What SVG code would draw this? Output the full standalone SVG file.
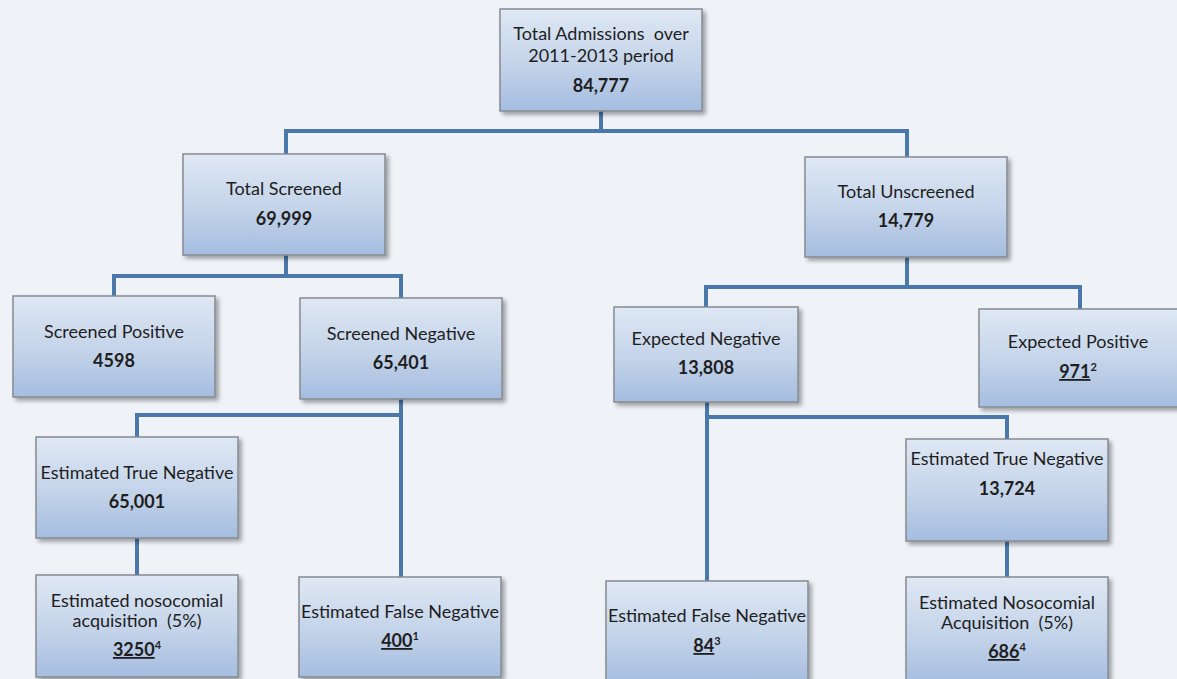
<svg xmlns="http://www.w3.org/2000/svg" width="1177" height="679" viewBox="0 0 1177 679">
<defs>
<linearGradient id="boxg" x1="0" y1="0" x2="0" y2="1">
<stop offset="0" stop-color="#dfe8f4"/>
<stop offset="0.55" stop-color="#c3d3e9"/>
<stop offset="1" stop-color="#a5bde0"/>
</linearGradient>
<filter id="sh" x="-10%" y="-10%" width="125%" height="130%">
<feDropShadow dx="3" dy="3" stdDeviation="2" flood-color="#000" flood-opacity="0.35"/>
</filter>
<style>
.box{fill:url(#boxg);stroke:#858a92;stroke-width:1.5;filter:url(#sh)}
.t{font-family:Lato,"Liberation Sans",sans-serif;font-size:18px;fill:#1e1e1e;text-anchor:middle;white-space:pre}
.n{font-weight:bold}
.u{text-decoration:underline}
.sup{font-size:11px;font-weight:bold}
.c{fill:none;stroke:#4a78aa;stroke-width:4}
</style>
</defs>
<rect width="1177" height="679" fill="#eff3f8"/>
<g id="connectors">
<path class="c" d="M601,111 V131 M284,131 H909 M286,131 V154 M907,131 V157"/>
<path class="c" d="M286,255 V276 M112,276 H403 M114,276 V296 M401,276 V298"/>
<path class="c" d="M401,399 V577 M135,415 H401 M137,415 V437"/>
<path class="c" d="M137,538 V575"/>
<path class="c" d="M907,257 V287 M704,287 H1082 M706,287 V307 M1080,287 V309"/>
<path class="c" d="M707,402 V581 M705,417 H1009 M1007,417 V439"/>
<path class="c" d="M1007,541 V577"/>
</g>
<g id="n-total">
<rect class="box" x="500" y="9" width="202" height="102"/>
<text class="t" x="601" y="40" xml:space="preserve">Total Admissions  over</text>
<text class="t" x="601" y="62">2011-2013 period</text>
<text class="t n" x="601" y="92">84,777</text>
</g>
<g id="n-screened">
<rect class="box" x="183" y="154" width="202" height="101"/>
<text class="t" x="284" y="195">Total Screened</text>
<text class="t n" x="284" y="225">69,999</text>
</g>
<g id="n-unscreened">
<rect class="box" x="805" y="157" width="202" height="100"/>
<text class="t" x="906" y="198">Total Unscreened</text>
<text class="t n" x="906" y="227">14,779</text>
</g>
<g id="n-spos">
<rect class="box" x="13" y="296" width="202" height="101"/>
<text class="t" x="114" y="338">Screened Positive</text>
<text class="t n" x="114" y="367">4598</text>
</g>
<g id="n-sneg">
<rect class="box" x="300" y="298" width="202" height="101"/>
<text class="t" x="401" y="340">Screened Negative</text>
<text class="t n" x="401" y="369">65,401</text>
</g>
<g id="n-eneg">
<rect class="box" x="614" y="307" width="184" height="95"/>
<text class="t" x="706" y="345">Expected Negative</text>
<text class="t n" x="706" y="374">13,808</text>
</g>
<g id="n-epos">
<rect class="box" x="979" y="309" width="204" height="98"/>
<text class="t" x="1078" y="348">Expected Positive</text>
<text class="t n" x="1078" y="378"><tspan class="u">971</tspan><tspan class="sup" dy="-7">2</tspan></text>
</g>
<g id="n-ltn">
<rect class="box" x="36" y="437" width="202" height="101"/>
<text class="t" x="137" y="479">Estimated True Negative</text>
<text class="t n" x="137" y="508">65,001</text>
</g>
<g id="n-lnoso">
<rect class="box" x="36" y="575" width="202" height="102"/>
<text class="t" x="137" y="607">Estimated nosocomial</text>
<text class="t" x="137" y="627" xml:space="preserve">acquisition  (5%)</text>
<text class="t n" x="137" y="656"><tspan class="u">3250</tspan><tspan class="sup" dy="-7">4</tspan></text>
</g>
<g id="n-lfn">
<rect class="box" x="299" y="577" width="202" height="100"/>
<text class="t" x="400" y="618">Estimated False Negative</text>
<text class="t n" x="400" y="647"><tspan class="u">400</tspan><tspan class="sup" dy="-7">1</tspan></text>
</g>
<g id="n-rtn">
<rect class="box" x="906" y="439" width="202" height="102"/>
<text class="t" x="1007" y="465">Estimated True Negative</text>
<text class="t n" x="1007" y="495">13,724</text>
</g>
<g id="n-rfn">
<rect class="box" x="606" y="581" width="202" height="104"/>
<text class="t" x="707" y="622">Estimated False Negative</text>
<text class="t n" x="707" y="652"><tspan class="u">84</tspan><tspan class="sup" dy="-7">3</tspan></text>
</g>
<g id="n-rnoso">
<rect class="box" x="906" y="577" width="202" height="108"/>
<text class="t" x="1007" y="609">Estimated Nosocomial</text>
<text class="t" x="1007" y="629" xml:space="preserve">Acquisition  (5%)</text>
<text class="t n" x="1007" y="658"><tspan class="u">686</tspan><tspan class="sup" dy="-7">4</tspan></text>
</g>
</svg>
